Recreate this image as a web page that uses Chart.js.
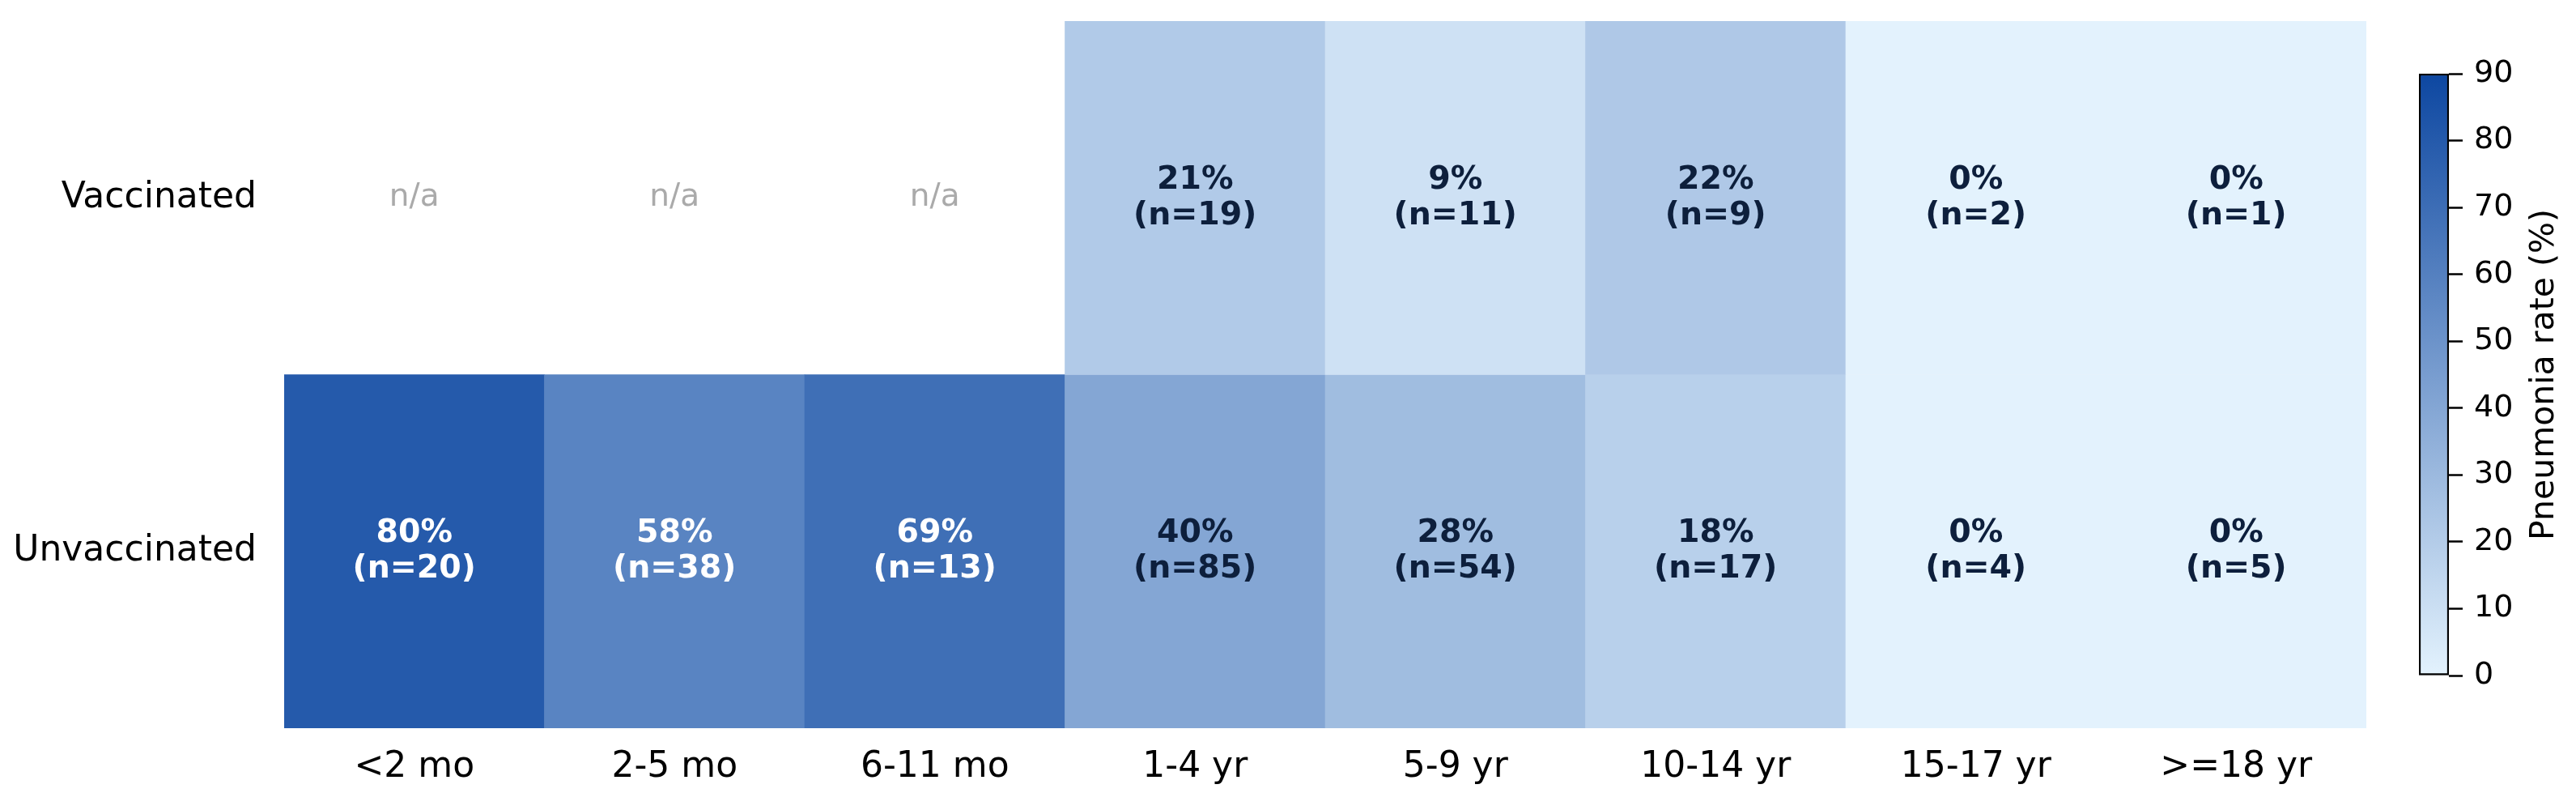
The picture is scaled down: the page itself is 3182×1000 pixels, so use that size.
<!DOCTYPE html>
<html>
<head>
<meta charset="utf-8">
<script src="https://cdn.jsdelivr.net/npm/chart.js@4.4.1/dist/chart.umd.min.js"></script>
<style>
  html, body { margin: 0; padding: 0; background: #fff; }
  #wrap { position: relative; width: 3182px; height: 1000px; }
  #heat { position: absolute; left: 0; top: 0; }
  #bar { position: absolute; left: 2900px; top: 0; }
</style>
</head>
<body>
<div id="wrap">
  <canvas id="heat" width="2950" height="1000"></canvas>
  <canvas id="bar" width="282" height="1000"></canvas>
</div>
<script>
// age groups along the bottom
const ageGroups = ['<2 mo', '2-5 mo', '6-11 mo', '1-4 yr', '5-9 yr', '10-14 yr', '15-17 yr', '>=18 yr']
const rowLabels = ['Vaccinated', 'Unvaccinated']

// pneumonia rate (%) and group size, null = no data
const vaccinatedRate = [null, null, null, 21, 9, 22, 0, 0]
const vaccinatedN = [null, null, null, 19, 11, 9, 2, 1]
const unvaccinatedRate = [80, 58, 69, 40, 28, 18, 0, 0]
const unvaccinatedN = [20, 38, 13, 85, 54, 17, 4, 5]

const colorbarTicks = [0, 10, 20, 30, 40, 50, 60, 70, 80, 90]
const rateMax = 90

const FONT = "'DejaVu Sans', sans-serif"
const lowColor = [227, 242, 253]
const highColor = [13, 71, 161]

function rateColor(v) {
    const t = Math.max(0, Math.min(1, v / rateMax))
    const c = lowColor.map((lo, i) => Math.round(lo + (highColor[i] - lo) * t))
    return `rgb(${c[0]},${c[1]},${c[2]})`
}

function cellText(rate) {
    return rate >= 55 ? '#ffffff' : '#0d1f3c'
}

const cellLabels = {
    id: 'cellLabels',
    afterDatasetsDraw(chart) {
        const ctx = chart.ctx
        const xs = chart.scales.x
        const ys = chart.scales.y
        const rows = [
            { rate: vaccinatedRate, n: vaccinatedN, mid: 1.5 },
            { rate: unvaccinatedRate, n: unvaccinatedN, mid: 0.5 }
        ]
        ctx.save()
        ctx.textAlign = 'center'
        ctx.textBaseline = 'middle'
        rows.forEach(row => {
            const y = ys.getPixelForValue(row.mid)
            ageGroups.forEach((g, i) => {
                const x = xs.getPixelForValue(i)
                if (row.rate[i] === null) {
                    ctx.font = `39px ${FONT}`
                    ctx.fillStyle = '#aaaaaa'
                    ctx.fillText('n/a', x, y)
                    return
                }
                ctx.font = `bold 39.5px ${FONT}`
                ctx.fillStyle = cellText(row.rate[i])
                ctx.fillText(row.rate[i] + '%', x, y - 22)
                ctx.fillText('(n=' + row.n[i] + ')', x, y + 22)
            })
        })
        ctx.restore()
    }
}

new Chart(document.getElementById('heat'), {
    type: 'bar',
    data: {
        labels: ageGroups,
        datasets: [
            {
                data: vaccinatedRate.map(v => v === null ? null : [1, 2]),
                backgroundColor: vaccinatedRate.map(v => v === null ? 'rgba(0,0,0,0)' : rateColor(v)),
                barPercentage: 1,
                categoryPercentage: 1,
                grouped: false
            },
            {
                data: unvaccinatedRate.map(() => [0, 1]),
                backgroundColor: unvaccinatedRate.map(v => rateColor(v)),
                barPercentage: 1,
                categoryPercentage: 1,
                grouped: false
            }
        ]
    },
    options: {
        responsive: false,
        animation: false,
        devicePixelRatio: 1,
        layout: { padding: { top: 26, right: 27, bottom: 0, left: 0 } },
        plugins: { legend: { display: false }, tooltip: { enabled: false } },
        scales: {
            x: {
                grid: { display: false, drawTicks: false },
                border: { display: false },
                ticks: { font: { family: FONT, size: 44 }, color: '#000', padding: 22 },
                afterFit(s) { s.height = 101 }
            },
            y: {
                min: 0,
                max: 2,
                grid: { display: false, drawTicks: false },
                border: { display: false },
                afterBuildTicks(s) { s.ticks = [{ value: 0.5 }, { value: 1.5 }] },
                ticks: {
                    font: { family: FONT, size: 44 },
                    color: '#000',
                    padding: 34,
                    callback: v => v > 1 ? rowLabels[0] : rowLabels[1]
                },
                afterFit(s) {
                    s.width = 351
                    s.paddingTop = 0
                    s.paddingBottom = 0
                }
            }
        }
    },
    plugins: [cellLabels]
})

// colorbar drawn as a single floating bar with a gradient fill
const colorbarTitle = {
    id: 'colorbarTitle',
    afterDraw(chart) {
        const ctx = chart.ctx
        const a = chart.chartArea
        ctx.save()
        ctx.translate(243, (a.top + a.bottom) / 2)
        ctx.rotate(-Math.PI / 2)
        ctx.font = `41px ${FONT}`
        ctx.fillStyle = '#000'
        ctx.textAlign = 'center'
        ctx.textBaseline = 'middle'
        ctx.fillText('Pneumonia rate (%)', 0, 0)
        ctx.restore()
    }
}

new Chart(document.getElementById('bar'), {
    type: 'bar',
    data: {
        labels: [''],
        datasets: [{
            data: [[0, rateMax]],
            backgroundColor(c) {
                const a = c.chart.chartArea
                if (!a) return rateColor(45)
                const g = c.chart.ctx.createLinearGradient(0, a.bottom, 0, a.top)
                g.addColorStop(0, rateColor(0))
                g.addColorStop(1, rateColor(rateMax))
                return g
            },
            borderColor: '#000',
            borderWidth: 2.5,
            borderSkipped: false,
            barPercentage: 1,
            categoryPercentage: 1
        }]
    },
    options: {
        responsive: false,
        animation: false,
        devicePixelRatio: 1,
        layout: { padding: { top: 91, bottom: 166, left: 88, right: 0 } },
        plugins: { legend: { display: false }, tooltip: { enabled: false } },
        scales: {
            x: { display: false },
            y: {
                position: 'right',
                min: 0,
                max: rateMax,
                afterBuildTicks(s) { s.ticks = colorbarTicks.map(v => ({ value: v })) },
                grid: { drawOnChartArea: false, drawTicks: true, tickLength: 17, tickWidth: 2.5, tickColor: '#000' },
                border: { display: false },
                ticks: { font: { family: FONT, size: 38 }, color: '#000', padding: 14 },
                afterFit(s) {
                    s.width = 157
                    s.paddingTop = 0
                    s.paddingBottom = 0
                }
            }
        }
    },
    plugins: [colorbarTitle]
})
</script>
</body>
</html>
